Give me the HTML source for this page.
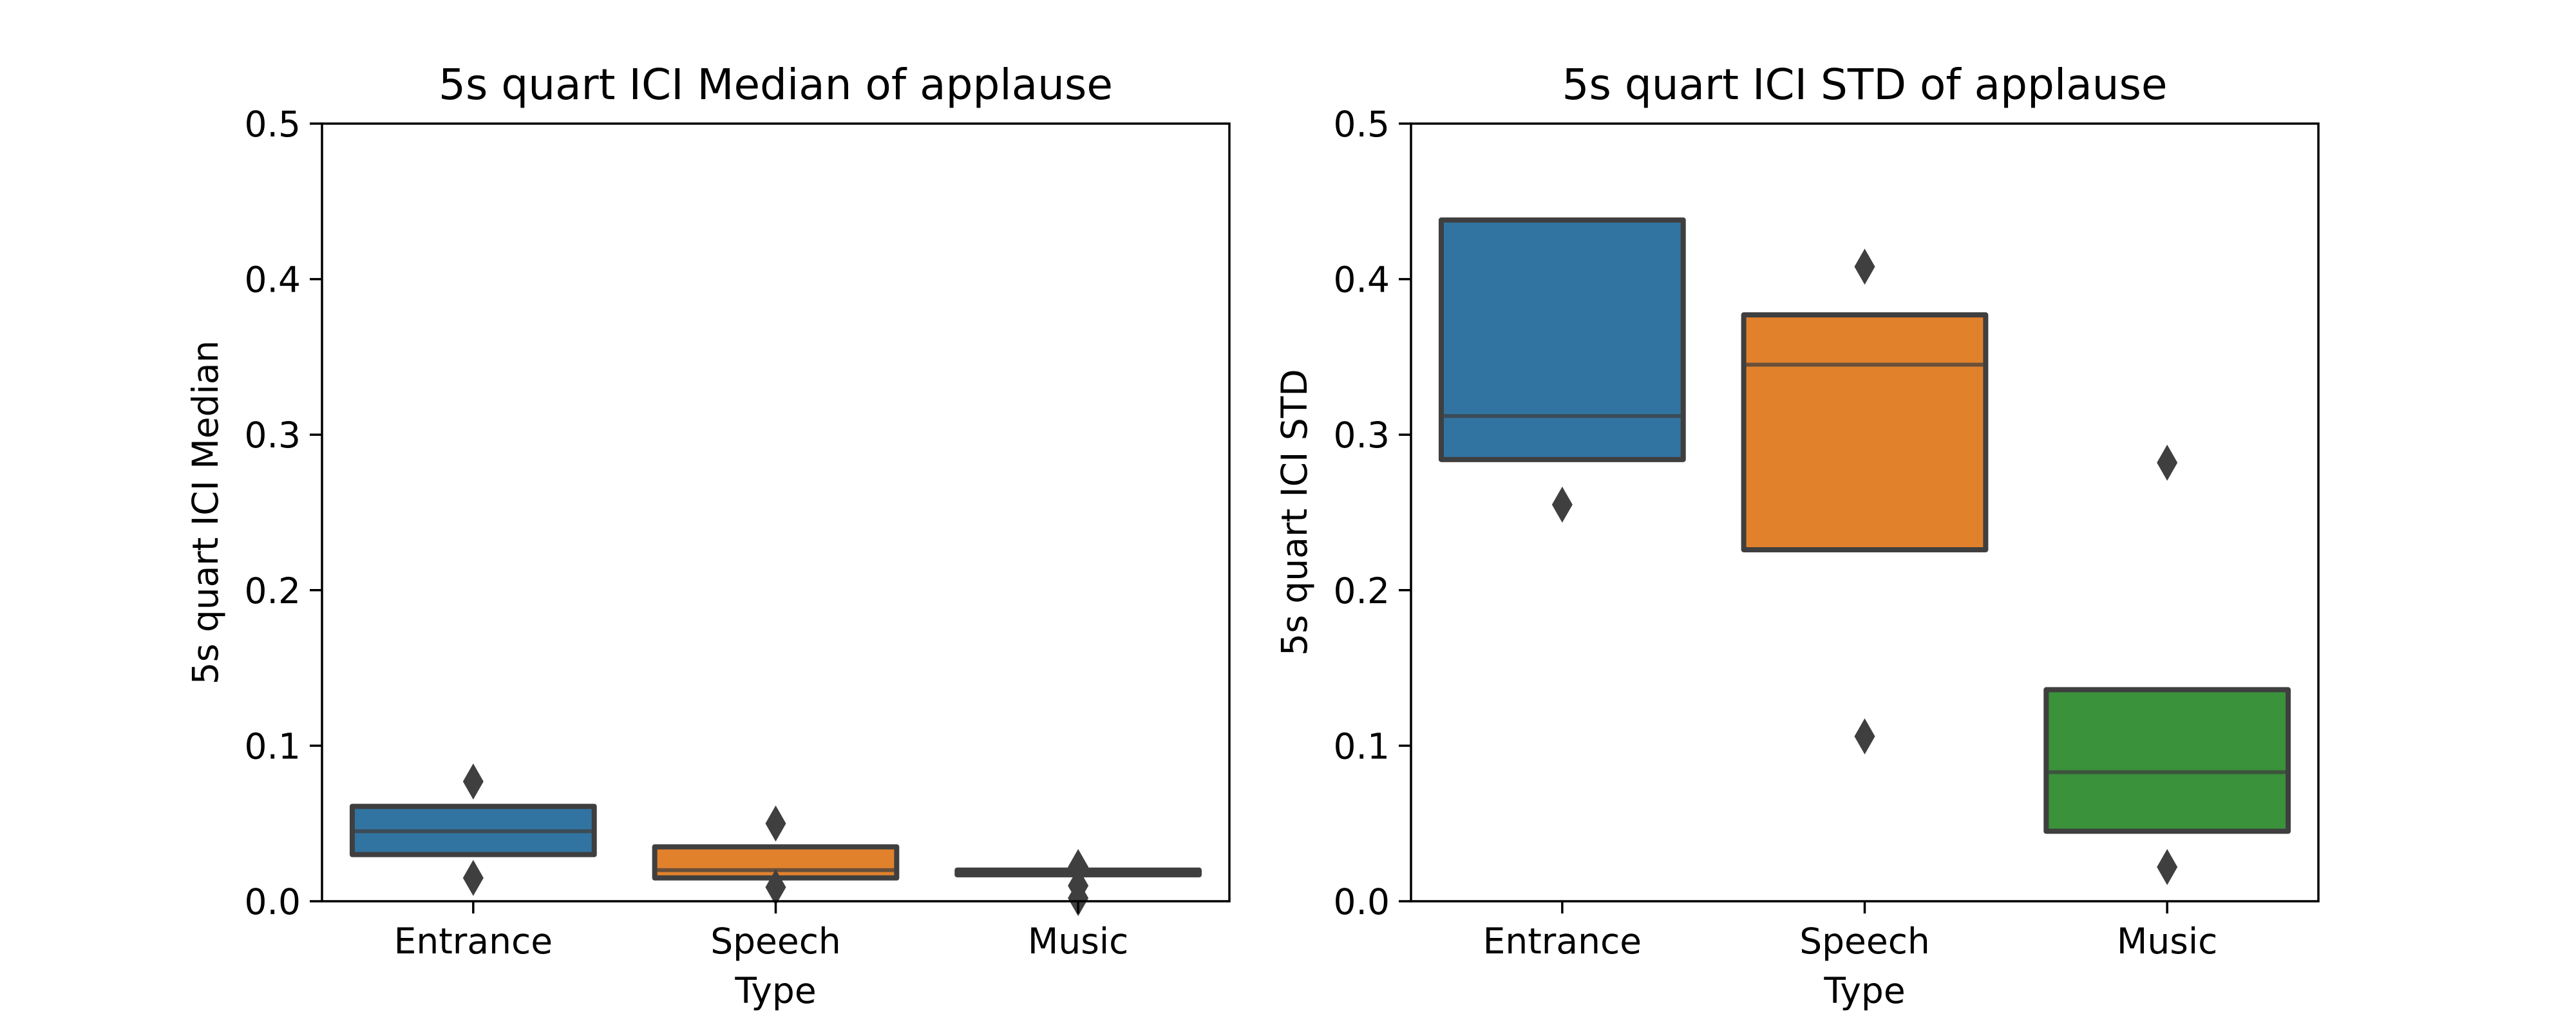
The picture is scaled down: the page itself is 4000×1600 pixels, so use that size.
<!DOCTYPE html>
<html><head><meta charset="utf-8"><style>
html,body{margin:0;padding:0;background:#fff;}
svg{display:block;font-family:"DejaVu Sans","Liberation Sans",sans-serif;}
</style></head><body>
<svg id="chart" width="4000" height="1600" viewBox="0 0 4000 1600" xmlns="http://www.w3.org/2000/svg">
<rect width="4000" height="1600" fill="#fff"/>
</svg>
<script>
const categories = ["Entrance","Speech","Music"];
const colors = ["#3274a1","#e1812c","#3a923a"];
const yTicks = [0.0,0.1,0.2,0.3,0.4,0.5];
const yTickLabels = ["0.0","0.1","0.2","0.3","0.4","0.5"];
// left panel: median
const medQ1 = [0.030,0.015,0.017];
const medQ3 = [0.061,0.035,0.020];
const medMed = [0.045,0.020,0.019];
const medFliers = [[0.077,0.015],[0.050,0.009],[0.022,0.010,0.002]];
// right panel: std
const stdQ1 = [0.284,0.226,0.045];
const stdQ3 = [0.438,0.377,0.136];
const stdMed = [0.312,0.345,0.083];
const stdFliers = [[0.255],[0.408,0.106],[0.282,0.022]];

const NS="http://www.w3.org/2000/svg";
const svg=document.getElementById('chart');
function mk(tag,attrs,parent){const e=document.createElementNS(NS,tag);for(const k in attrs)e.setAttribute(k,attrs[k]);(parent||svg).appendChild(e);return e;}

function panel(x0,x1,y0,y1,title,ylabel,q1,q3,med,fliers,name){
  const g=mk('g',{});
  
  
  const xs=i=>x0+(i+0.5)/3*(x1-x0);
  const ys=v=>y1-(v/0.5)*(y1-y0);
  const bw=0.8/3*(x1-x0);
  categories.forEach((c,i)=>{
    const b=mk('rect',{x:xs(i)-bw/2,y:ys(q3[i]),width:bw,height:Math.max(ys(q1[i])-ys(q3[i]),0.5),fill:colors[i],stroke:'#3f3f3f','stroke-width':8,'stroke-linejoin':'round'},g);
    
    
    const m=mk('line',{x1:xs(i)-bw/2+4,x2:xs(i)+bw/2-4,y1:ys(med[i]),y2:ys(med[i]),stroke:'#3f3f3f','stroke-width':6,'stroke-opacity':0.75},g);
    
    
    fliers[i].forEach(v=>{
      const cx=xs(i),cy=ys(v);
      const d=mk('polygon',{points:`${cx},${cy-28} ${cx+16},${cy} ${cx},${cy+28} ${cx-16},${cy}`,fill:'#3f3f3f'},g);
      
      
    });
    const t=mk('line',{x1:xs(i),x2:xs(i),y1:y1,y2:y1+19,stroke:'#000','stroke-width':3.5},g);
    
    
    const tl=mk('text',{x:xs(i),y:y1+81,'font-size':55,'text-anchor':'middle',fill:'#000'},g);
    tl.textContent=c;
    
    
  });
  yTicks.forEach((v,k)=>{
    const t=mk('line',{x1:x0-19,x2:x0,y1:ys(v),y2:ys(v),stroke:'#000','stroke-width':3.5},g);
    
    
    const tl=mk('text',{x:x0-33,y:ys(v)+20,'font-size':55,'text-anchor':'end',fill:'#000'},g);
    tl.textContent=yTickLabels[k];
    
    
  });
  const fr=mk('rect',{x:x0,y:y0,width:x1-x0,height:y1-y0,fill:'none',stroke:'#000','stroke-width':3.5},g);
  
  
  const tt=mk('text',{x:(x0+x1)/2,y:y0-38,'font-size':66,'text-anchor':'middle',fill:'#000'},g);
  tt.textContent=title;
  
  
  const xl=mk('text',{x:(x0+x1)/2,y:y1+158,'font-size':55,'text-anchor':'middle',fill:'#000'},g);
  xl.textContent='Type';
  
  
  const yl=mk('text',{x:0,y:0,'font-size':55,'text-anchor':'middle',fill:'#000',transform:`translate(${x0-162},${(y0+y1)/2}) rotate(-90)`},g);
  yl.textContent=ylabel;
  
  
}
panel(500,1909,192,1400,'5s quart ICI Median of applause','5s quart ICI Median',medQ1,medQ3,medMed,medFliers,'median-panel');
panel(2191,3600,192,1400,'5s quart ICI STD of applause','5s quart ICI STD',stdQ1,stdQ3,stdMed,stdFliers,'std-panel');
</script>
</body></html>
